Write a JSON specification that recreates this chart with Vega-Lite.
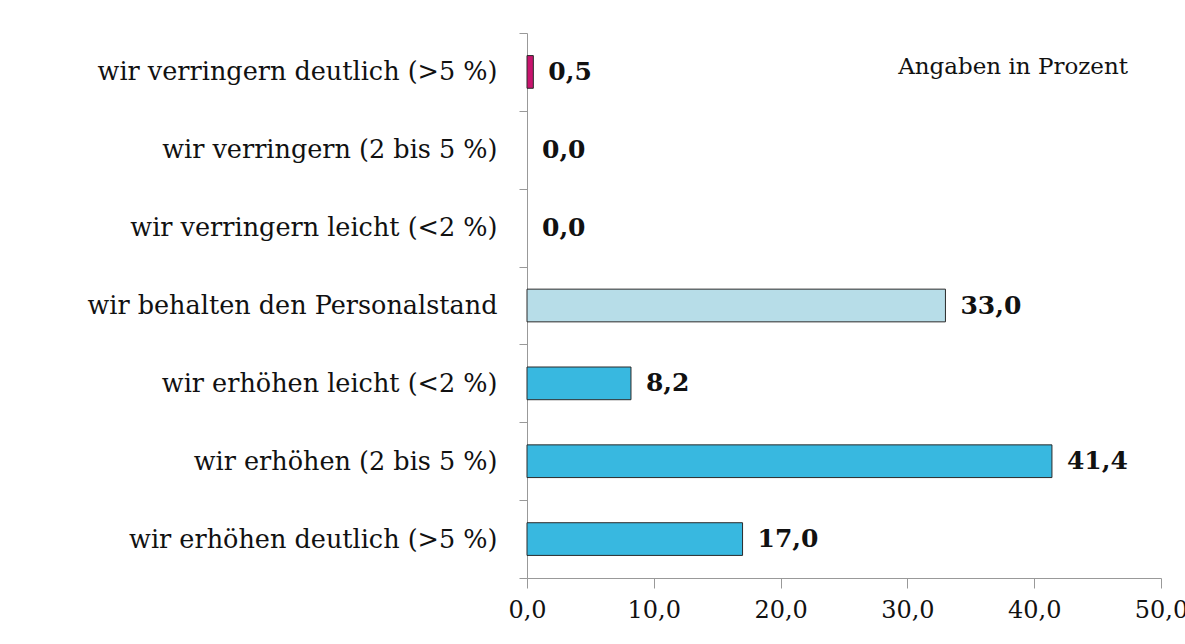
{
  "$schema": "https://vega.github.io/schema/vega-lite/v6.json",
  "width": 634,
  "height": 545,
  "autosize": "none",
  "padding": {"left": 527, "top": 33, "right": 24, "bottom": 66},
  "background": "white",
  "config": {
    "locale": {"number": {"decimal": ",", "thousands": ".", "grouping": [3], "currency": ["", " €"]}},
    "view": {"stroke": null},
    "font": "DejaVu Serif"
  },
  "datasets": {
    "werte": [
      {"Kategorie": "wir verringern deutlich (>5 %)", "Wert": 0.5, "Richtung": "verringern"},
      {"Kategorie": "wir verringern (2 bis 5 %)", "Wert": 0.0, "Richtung": "verringern"},
      {"Kategorie": "wir verringern leicht (<2 %)", "Wert": 0.0, "Richtung": "verringern"},
      {"Kategorie": "wir behalten den Personalstand", "Wert": 33.0, "Richtung": "behalten"},
      {"Kategorie": "wir erhöhen leicht (<2 %)", "Wert": 8.2, "Richtung": "erhöhen"},
      {"Kategorie": "wir erhöhen (2 bis 5 %)", "Wert": 41.4, "Richtung": "erhöhen"},
      {"Kategorie": "wir erhöhen deutlich (>5 %)", "Wert": 17.0, "Richtung": "erhöhen"}
    ],
    "hinweis": [
      {"Kategorie": "wir verringern deutlich (>5 %)", "Wert": 47.4, "Text": "Angaben in Prozent"}
    ]
  },
  "encoding": {
    "y": {
      "field": "Kategorie",
      "type": "nominal",
      "sort": null,
      "scale": {"paddingInner": 0, "paddingOuter": 0},
      "axis": {
        "title": null,
        "tickBand": "extent",
        "tickSize": 8,
        "tickColor": "#999999",
        "domainColor": "#999999",
        "labelPadding": 22,
        "labelFont": "DejaVu Serif",
        "labelFontSize": 25.5,
        "labelColor": "#111111",
        "labelLimit": 600
      }
    },
    "x": {
      "field": "Wert",
      "type": "quantitative",
      "scale": {"domain": [0, 50], "nice": false},
      "axis": {
        "title": null,
        "values": [0, 10, 20, 30, 40, 50],
        "format": ".1f",
        "grid": false,
        "tickSize": 10,
        "tickColor": "#999999",
        "domainColor": "#999999",
        "labelPadding": 10,
        "labelFont": "DejaVu Serif",
        "labelFontSize": 24,
        "labelColor": "#111111",
        "labelFlush": false
      }
    }
  },
  "layer": [
    {
      "data": {"name": "werte"},
      "mark": {"type": "bar", "height": {"band": 0.42}, "stroke": "#2a2a2a", "strokeWidth": 1},
      "encoding": {
        "color": {
          "field": "Richtung",
          "type": "nominal",
          "scale": {"domain": ["verringern", "behalten", "erhöhen"], "range": ["#c8146e", "#b7dde8", "#38b8e0"]},
          "legend": null
        },
        "strokeOpacity": {"condition": {"test": "datum.Wert > 0", "value": 1}, "value": 0}
      }
    },
    {
      "data": {"name": "werte"},
      "mark": {"type": "text", "align": "left", "baseline": "middle", "dx": 15, "fontWeight": "bold", "fontSize": 25, "font": "DejaVu Serif", "color": "#111111"},
      "encoding": {
        "text": {"field": "Wert", "type": "quantitative", "format": ".1f"}
      }
    },
    {
      "data": {"name": "hinweis"},
      "mark": {"type": "text", "align": "right", "baseline": "middle", "dy": -5, "fontSize": 23, "font": "DejaVu Serif", "color": "#111111"},
      "encoding": {
        "text": {"field": "Text", "type": "nominal"}
      }
    }
  ]
}
